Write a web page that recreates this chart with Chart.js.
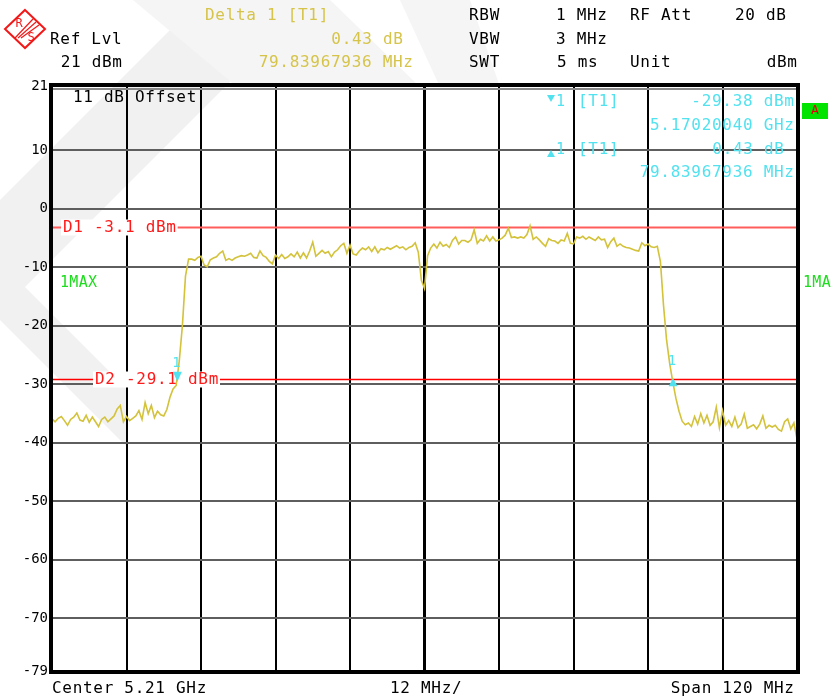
<!DOCTYPE html>
<html>
<head>
<meta charset="utf-8">
<script src="https://cdn.jsdelivr.net/npm/chart.js@4/dist/chart.umd.min.js"></script>
<style>
  html, body { margin: 0; padding: 0; background: #fff; }
  #wrap { width: 834px; height: 698px; position: relative; }
</style>
</head>
<body>
<div id="wrap"><canvas id="c" width="834" height="698"></canvas></div>
<script>
// Sweep settings
const startMHz = 5150;
const stopMHz = 5270;
const stepMHz = 0.5;          // spacing of trace points
const divMHz = 12;            // frequency per grid division

// Max-hold trace, dBm, one value per stepMHz starting at startMHz
const traceDbm = [
  -35.9,-36.4,-35.8,-35.5,-36.2,-37.0,-36.0,-35.6,-34.9,-36.1,
  -36.3,-35.3,-36.5,-35.6,-36.4,-37.2,-36.0,-35.6,-36.4,-35.9,
  -35.4,-34.2,-33.6,-36.4,-35.5,-36.2,-35.8,-35.4,-34.5,-36.0,
  -33.1,-35.0,-33.6,-35.7,-34.6,-35.2,-35.4,-34.3,-32.2,-30.8,
  -30.2,-26.0,-20.0,-11.5,
  -8.6,-8.6,-8.8,-8.3,-8.1,-9.6,-9.9,-8.7,-8.4,-8.2,
  -7.6,-7.2,-8.8,-8.5,-8.8,-8.4,-8.2,-8.0,-8.1,-7.9,
  -7.6,-8.3,-8.4,-7.2,-8.0,-8.3,-9.0,-9.4,-7.9,-8.5,
  -7.8,-8.5,-8.2,-7.7,-8.2,-7.4,-8.4,-7.5,-8.4,-7.2,
  -5.7,-8.1,-7.6,-7.1,-7.6,-7.3,-8.2,-7.4,-7.0,-6.3,
  -5.9,-7.6,-6.2,-7.7,-7.9,-7.2,-6.7,-7.0,-6.5,-7.3,
  -6.5,-7.5,-6.8,-7.0,-6.6,-6.9,-6.6,-6.3,-6.7,-6.5,
  -7.0,-6.6,-6.4,-5.8,-7.4,-12.2,-13.6,-8.0,-6.7,-6.0,
  -6.7,-5.7,-6.4,-6.1,-6.6,-5.4,-4.8,-6.0,-5.4,-5.4,
  -5.7,-5.3,-3.6,-5.9,-5.2,-5.5,-4.6,-5.5,-4.8,-5.5,
  -5.3,-5.0,-4.5,-3.3,-4.9,-4.8,-5.0,-4.8,-5.0,-4.4,
  -2.9,-5.2,-4.8,-5.3,-5.9,-6.4,-5.1,-5.4,-5.5,-5.9,
  -5.3,-5.5,-4.2,-5.9,-6.0,-4.8,-5.0,-4.7,-5.2,-4.8,
  -5.1,-5.4,-4.8,-5.3,-5.2,-6.6,-5.6,-5.0,-6.4,-6.0,
  -6.4,-6.6,-6.7,-6.9,-7.1,-7.2,-5.8,-6.3,-6.0,-6.5,
  -6.6,-6.4,-9.0,-16.5,-22.5,-26.5,-29.6,-32.4,-34.6,-36.3,
  -36.9,-36.6,-37.2,-35.5,-36.8,-35.0,-36.6,-35.3,-37.0,-36.4,
  -33.9,-37.4,-34.5,-37.0,-36.2,-37.2,-35.6,-37.4,-36.8,-35.1,
  -37.5,-37.2,-36.9,-37.6,-36.8,-35.4,-37.5,-37.0,-37.3,-37.0,
  -37.7,-38.0,-36.4,-35.9,-37.6,-36.6,-39.3
];

// Level axis
const yMin = -79;
const yMax = 21;
const yTicks = [21, 10, 0, -10, -20, -30, -40, -50, -60, -70, -79];

// Display lines
const limitNames = ['D1', 'D2'];
const limitDbm = [-3.1, -29.1];

// Markers
const markerFreqMHz = 5170.2004;
const markerDbm = -29.38;
const deltaFreqMHz = 79.83967936;
const deltaDb = 0.43;

const FONT = '"DejaVu Sans Mono", "Liberation Mono", monospace';
const YELLOW = '#d6c44a';
const CYAN = '#52e2ef';
const GREEN = '#1edc1e';
const TRACE = '#d3c23a';

const xGrid = [];
for (let f = startMHz; f <= stopMHz + 1e-9; f += divMHz) xGrid.push(f);
const tracePts = traceDbm.map((v, i) => ({ x: startMHz + i * stepMHz, y: v }));

function txt(c, s, x, y, color, align = 'left', size = 16, spacing = 0.7) {
  c.save();
  c.font = size + 'px ' + FONT;
  c.letterSpacing = spacing + 'px';
  c.fillStyle = color;
  c.textAlign = align;
  c.textBaseline = 'middle';
  c.fillText(s, align === 'right' ? x + spacing : x, y);
  c.restore();
}
function textWidth(c, s, size = 16, spacing = 0.7) {
  c.save();
  c.font = size + 'px ' + FONT;
  c.letterSpacing = spacing + 'px';
  const w = c.measureText(s).width;
  c.restore();
  return w;
}
function poly(c, pts) {
  c.beginPath();
  c.moveTo(pts[0][0], pts[0][1]);
  for (let i = 1; i < pts.length; i++) c.lineTo(pts[i][0], pts[i][1]);
  c.closePath();
  c.fill();
}
function tri(c, x, y, w, h, up) {
  c.beginPath();
  if (up) { c.moveTo(x, y); c.lineTo(x - w / 2, y + h); c.lineTo(x + w / 2, y + h); }
  else { c.moveTo(x, y); c.lineTo(x - w / 2, y - h); c.lineTo(x + w / 2, y - h); }
  c.closePath();
  c.fill();
}

function drawLogo(c) {
  c.save();
  c.translate(25, 29);
  c.strokeStyle = '#f21818';
  c.fillStyle = '#f21818';
  c.lineWidth = 2;
  c.beginPath();
  c.moveTo(0, -19); c.lineTo(20, 0); c.lineTo(0, 19); c.lineTo(-20, 0);
  c.closePath();
  c.stroke();
  c.lineWidth = 1.2;
  for (const k of [-1, 2, 5]) {
    c.beginPath();
    c.moveTo(-9 + k, 9 + k - 2 * k + k);
    c.lineTo(9 + k, -9 + k);
    c.stroke();
  }
  c.font = '12px ' + FONT;
  c.textAlign = 'center';
  c.textBaseline = 'middle';
  c.fillText('R', -6, -5);
  c.fillText('S', 6, 9);
  c.restore();
}

const decor = {
  id: 'decor',
  beforeDraw(chart) {
    const c = chart.ctx;
    c.save();
    c.fillStyle = '#fff';
    c.fillRect(0, 0, chart.width, chart.height);
    // faint background emblem
    c.fillStyle = '#f1f1f1';
    poly(c, [[200, 0], [312, 0], [25, 287], [127, 389], [127, 447], [-60, 260]]);
    c.fillStyle = '#f5f5f5';
    poly(c, [[133, 0], [330, 0], [420, 87], [237, 87]]);
    poly(c, [[400, 0], [470, 0], [500, 87], [440, 87]]);
    c.restore();
  },
  beforeDatasetsDraw(chart) {
    const c = chart.ctx, a = chart.chartArea, ys = chart.scales.y;
    const labelX = [63, 95];
    const cols = ['#ff5c5c', '#ff0000'];
    const widths = [2, 1.5];
    c.save();
    limitDbm.forEach((v, i) => {
      const py = Math.round(ys.getPixelForValue(v)) + 0.5;
      c.strokeStyle = cols[i];
      c.lineWidth = widths[i];
      c.beginPath(); c.moveTo(a.left, py); c.lineTo(a.right, py); c.stroke();
      const s = limitNames[i] + ' ' + v.toFixed(1) + ' dBm';
      const w = textWidth(c, s);
      c.fillStyle = '#fff';
      c.fillRect(labelX[i] - 2, py - 8, w + 3, 16);
      txt(c, s, labelX[i], py, '#ff1a1a');
    });
    c.restore();
  },
  afterDatasetsDraw(chart) {
    const c = chart.ctx, a = chart.chartArea, xs = chart.scales.x, ys = chart.scales.y;
    c.save();
    // frame
    c.strokeStyle = '#000';
    c.lineWidth = 4;
    c.strokeRect(a.left - 1, a.top - 1, a.right - a.left + 2, a.bottom - a.top + 2);
    c.strokeStyle = '#8a8a8a';
    c.lineWidth = 2;
    c.beginPath(); c.moveTo(a.left + 1, a.top + 3); c.lineTo(a.right - 1, a.top + 3); c.stroke();

    // marker 1 and delta marker
    c.fillStyle = CYAN;
    const mx = xs.getPixelForValue(markerFreqMHz);
    const my = ys.getPixelForValue(markerDbm);
    tri(c, mx, my + 1, 9, 10, false);
    txt(c, '1', mx - 1, my - 17, CYAN, 'center', 14, 0);
    const dx = xs.getPixelForValue(markerFreqMHz + deltaFreqMHz);
    const dy = ys.getPixelForValue(markerDbm + deltaDb);
    tri(c, dx, dy, 9, 8, true);
    txt(c, '1', dx - 1, dy - 17, CYAN, 'center', 14, 0);

    // in-plot annotations
    txt(c, '11 dB Offset', 73, 98, '#000');
    txt(c, '1MAX', 60, 283, GREEN, 'left', 15, 0.3);

    c.fillStyle = CYAN;
    tri(c, 551, 102, 8, 7, false);
    txt(c, '1', 556, 102, CYAN, 'left', 15, 0);
    txt(c, '[T1]', 578, 102, CYAN);
    txt(c, markerDbm.toFixed(2) + ' dBm', 794, 102, CYAN, 'right');
    txt(c, (markerFreqMHz / 1000).toFixed(8) + ' GHz', 794, 126, CYAN, 'right');
    c.fillStyle = CYAN;
    tri(c, 551, 150, 8, 7, true);
    txt(c, '1', 556, 150, CYAN, 'left', 15, 0);
    txt(c, '[T1]', 578, 150, CYAN);
    txt(c, deltaDb.toFixed(2) + ' dB', 784, 150, CYAN, 'right');
    txt(c, deltaFreqMHz.toFixed(8) + ' MHz', 794, 173, CYAN, 'right');
    c.restore();
  },
  afterDraw(chart) {
    const c = chart.ctx;
    c.save();
    drawLogo(c);
    // header, left block
    txt(c, 'Ref Lvl', 50, 40, '#000');
    txt(c, yMax + ' dBm', 122, 63, '#000', 'right');
    txt(c, 'Delta 1 [T1]', 205, 16, YELLOW);
    txt(c, deltaDb.toFixed(2) + ' dB', 403, 40, YELLOW, 'right');
    txt(c, deltaFreqMHz.toFixed(8) + ' MHz', 413, 63, YELLOW, 'right');
    // header, settings block
    txt(c, 'RBW', 469, 16, '#000');
    txt(c, '1 MHz', 607, 16, '#000', 'right');
    txt(c, 'RF Att', 630, 16, '#000');
    txt(c, '20 dB', 786, 16, '#000', 'right');
    txt(c, 'VBW', 469, 40, '#000');
    txt(c, '3 MHz', 607, 40, '#000', 'right');
    txt(c, 'SWT', 469, 63, '#000');
    txt(c, '5 ms', 557, 63, '#000');
    txt(c, 'Unit', 630, 63, '#000');
    txt(c, 'dBm', 797, 63, '#000', 'right');
    // side indicators
    c.fillStyle = '#00e400';
    c.fillRect(802, 103, 26, 16);
    txt(c, 'A', 815, 111, '#e00000', 'center', 13, 0);
    txt(c, '1MA', 803, 283, GREEN, 'left', 15, 0.3);
    // footer
    const centerGHz = ((startMHz + stopMHz) / 2 / 1000).toFixed(2);
    txt(c, 'Center ' + centerGHz + ' GHz', 52, 689, '#000');
    txt(c, divMHz + ' MHz/', 390, 689, '#000');
    txt(c, 'Span ' + (stopMHz - startMHz) + ' MHz', 794, 689, '#000', 'right');
    c.restore();
  }
};

new Chart(document.getElementById('c'), {
  type: 'line',
  data: {
    datasets: [{
      data: tracePts,
      borderColor: TRACE,
      borderWidth: 1.6,
      pointRadius: 0,
      tension: 0,
      fill: false
    }]
  },
  options: {
    responsive: false,
    animation: false,
    devicePixelRatio: 1,
    events: [],
    layout: { padding: { top: 86, right: 37, bottom: 27, left: 0 } },
    plugins: { legend: { display: false }, tooltip: { enabled: false }, title: { display: false } },
    scales: {
      x: {
        type: 'linear',
        min: startMHz,
        max: stopMHz,
        afterBuildTicks: s => { s.ticks = xGrid.map(v => ({ value: v })); },
        afterFit: s => { s.height = 0; },
        ticks: { display: false },
        border: { display: false },
        grid: {
          color: '#000',
          lineWidth: ctx => (ctx.tick && Math.abs(ctx.tick.value - (startMHz + stopMHz) / 2) < 1e-6 ? 3 : 2),
          drawTicks: false
        }
      },
      y: {
        min: yMin,
        max: yMax,
        afterBuildTicks: s => { s.ticks = yTicks.map(v => ({ value: v })); },
        afterFit: s => { s.width = 52; },
        ticks: {
          autoSkip: false,
          padding: 4,
          color: '#000',
          font: { family: FONT, size: 14 }
        },
        border: { display: false },
        grid: { color: '#5e5e5e', lineWidth: 2, drawTicks: false }
      }
    }
  },
  plugins: [decor]
});
</script>
</body>
</html>
